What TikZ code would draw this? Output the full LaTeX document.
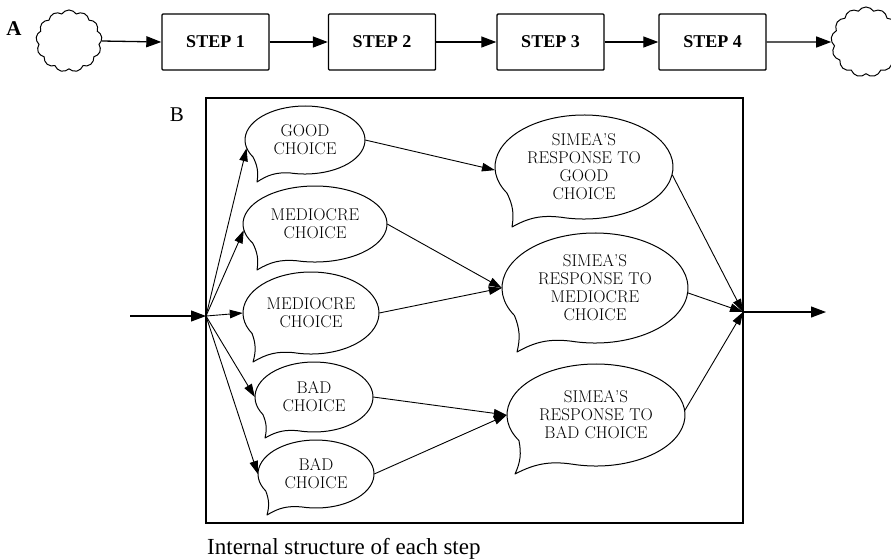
\documentclass[tikz,border=0pt]{standalone}
\usepackage{fontspec}
\newfontfamily\timesf{Liberation Serif}
\usetikzlibrary{shapes.symbols,shapes.geometric,arrows.meta,calc}
\tikzset{
  arr/.style={-{Triangle[length=15pt,width=11pt]}, line width=1.3pt},
  arrs/.style={-{Triangle[length=13pt,width=8.5pt]}, line width=0.9pt},
  stepbox/.style={draw, line width=1.4pt, rounded corners=1pt, minimum width=107pt, minimum height=56pt, inner sep=0pt,
    font=\timesf\bfseries\fontsize{18}{20}\selectfont},
  cloudy/.style={draw, cloud, cloud puffs=13, cloud puff arc=115, cloud ignores aspect, line width=1pt, inner sep=0pt},
  bubtext/.style={ellipse, inner sep=0pt, align=center, font=\fontsize{17}{18}\selectfont},
  bub/.style={line width=1pt, line join=round},
}
\newcommand\bubout[5]{%
  \draw[bub] ($(#1.center)+(255:#2pt and #3pt)$)
    arc[start angle=255, end angle=570, x radius=#2pt, y radius=#3pt]
    to[bend left=18] (#4,#5)
    to[bend left=18] ($(#1.center)+(255:#2pt and #3pt)$) -- cycle;}
\begin{document}
\begin{tikzpicture}[x=1pt, y=1pt]
\fill[white] (0,0) rectangle (891,-558);
\useasboundingbox (0,0) rectangle (891,-558);

% ---------- Part A ----------
\node[font=\timesf\bfseries\fontsize{21}{22}\selectfont] (labA) at (14,-29) {A};
\node[cloudy, minimum width=66pt, minimum height=62pt] (c1) at (69,-41) {};
\node[stepbox] (s1) at (215.5,-42) {STEP 1};
\node[stepbox] (s2) at (382,-42) {STEP 2};
\node[stepbox] (s3) at (550.5,-42) {STEP 3};
\node[stepbox] (s4) at (712.5,-42) {STEP 4};
\node[cloudy, minimum width=70pt, minimum height=70pt] (c2) at (866,-42) {};
\draw[arr] (c1.east) -- (s1.west);
\draw[arr] (s1) -- (s2);
\draw[arr] (s2) -- (s3);
\draw[arr] (s3) -- (s4);
\draw[arr] (s4.east) -- (c2.west);

% ---------- Part B ----------
\node[font=\timesf\fontsize{21}{22}\selectfont] (labB) at (177,-115) {B};
\node[draw, line width=1.4pt, minimum width=537pt, minimum height=425pt, inner sep=0pt] (boxB) at (474.5,-310.5) {};

\node[bubtext, minimum width=120pt, minimum height=68pt] (g)  at (305,-140) {GOOD\\CHOICE};
\node[bubtext, minimum width=144pt, minimum height=76pt] (m1) at (315,-224) {MEDIOCRE\\CHOICE};
\node[bubtext, minimum width=136pt, minimum height=82pt] (m2) at (311,-313) {MEDIOCRE\\CHOICE};
\node[bubtext, minimum width=118pt, minimum height=70pt] (b1) at (314,-397) {BAD\\CHOICE};
\node[bubtext, minimum width=116pt, minimum height=68pt] (b2) at (316,-474) {BAD\\CHOICE};
\node[bubtext, minimum width=178pt, minimum height=104pt] (rg) at (584,-167) {SIMEA'S\\RESPONSE TO\\GOOD\\CHOICE};
\node[bubtext, minimum width=186pt, minimum height=110pt] (rm) at (595,-288) {SIMEA'S\\RESPONSE TO\\MEDIOCRE\\CHOICE};
\node[bubtext, minimum width=178pt, minimum height=102pt] (rb) at (596,-415) {SIMEA'S\\RESPONSE TO\\BAD CHOICE};

\bubout{g}{60}{34}{257}{-182}
\bubout{m1}{72}{38}{257}{-270}
\bubout{m2}{68}{41}{253}{-362}
\bubout{b1}{59}{35}{265}{-438}
\bubout{b2}{58}{34}{267}{-515}
\bubout{rg}{89}{52}{512}{-227}
\bubout{rm}{93}{55}{517}{-352}
\bubout{rb}{89}{51}{515}{-474}

\coordinate (inp) at (130,-316);
\coordinate (fan) at (206,-316);
\coordinate (join) at (743,-312);
\coordinate (outp) at (826,-312);

\draw[arr, line width=1.1pt] (inp) -- (fan);
\draw[arrs] (fan) -- (g.188);
\draw[arrs] (fan) -- (m1.185);
\draw[arrs] (fan) -- (m2.west);
\draw[arrs] (fan) -- (b1.west);
\draw[arrs] (fan) -- (b2.west);

\draw[arrs] (g.east) -- (rg.182);
\draw[arrs] (m1.east) -- (rm.west);
\draw[arrs] (m2.east) -- (rm.west);
\draw[arrs] (b1.east) -- (rb.west);
\draw[arrs] (b2.east) -- (rb.west);

\draw[arrs] (rg.-5) -- (join);
\draw[arrs] (rm.-3) -- (join);
\draw[arrs] (rb.3) -- (join);
\draw[arr, line width=1.1pt] (join) -- (outp);

\node[anchor=base west, inner sep=0pt, font=\timesf\fontsize{23}{25}\selectfont] (cap) at (207,-554) {Internal structure of each step};
\end{tikzpicture}
\end{document}
